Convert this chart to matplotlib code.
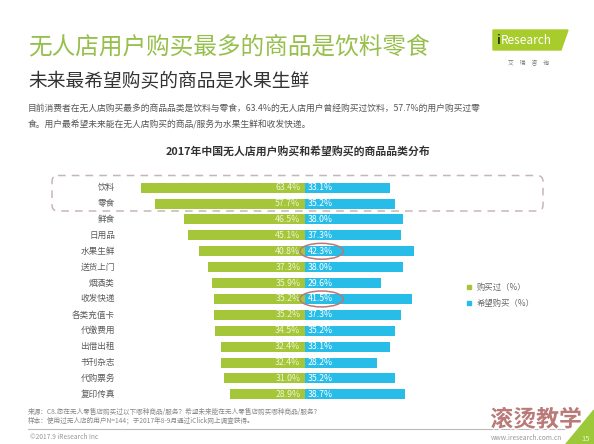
import matplotlib
matplotlib.use("Agg")
import matplotlib.pyplot as plt
import matplotlib.transforms as mtransforms
from matplotlib.patches import FancyBboxPatch, Ellipse, Polygon, Rectangle
import matplotlib.patheffects as pe

plt.rcParams['font.family'] = ['Noto Sans CJK SC', 'DejaVu Sans']

categories = ["饮料", "零食", "鲜食", "日用品", "水果生鲜", "送货上门", "烟酒类",
              "收发快递", "各类充值卡", "代缴费用", "出借出租", "书刊杂志", "代购票务", "复印传真"]
bought = [63.4, 57.7, 46.5, 45.1, 40.8, 37.3, 35.9, 35.2, 35.2, 34.5, 32.4, 32.4, 31.0, 28.9]
wanted = [33.1, 35.2, 38.0, 37.3, 42.3, 38.0, 29.6, 41.5, 37.3, 35.2, 33.1, 28.2, 35.2, 38.7]
legend_labels = ["购买过（%）", "希望购买（%）"]
highlight = ["水果生鲜", "收发快递"]

title_main = "无人店用户购买最多的商品是饮料零食"
title_sub = "未来最希望购买的商品是水果生鲜"
para1 = "目前消费者在无人店购买最多的商品品类是饮料与零食，63.4%的无人店用户曾经购买过饮料，57.7%的用户购买过零"
para2 = "食。用户最希望未来能在无人店购买的商品/服务为水果生鲜和收发快递。"
chart_title = "2017年中国无人店用户购买和希望购买的商品品类分布"
src1 = "来源：C8.您在无人零售店购买过以下哪种商品/服务？希望未来能在无人零售店购买哪种商品/服务？"
src2 = "样本：使用过无人店的用户N=144；于2017年8-9月通过iClick网上调查获得。"

GREEN = "#a6c63a"
BLUE = "#27bde8"
W, H = 594, 444

fig = plt.figure(figsize=(W / 100, H / 100), dpi=100)
fig.patch.set_facecolor("white")
px = mtransforms.Affine2D().scale(1 / W, -1 / H).translate(0, 1) + fig.transFigure

# chart axes
center = 304.5
scale = 2.585
top, bottom = 179.75, 402.25
ax = fig.add_axes([0, 1 - bottom / H, 1, (bottom - top) / H])
ax.set_xlim(-center / scale, (W - center) / scale)
ax.set_ylim(len(categories) - 0.5, -0.5)
ax.axis("off")

ys = list(range(len(categories)))
ax.barh(ys, [-b for b in bought], height=0.63, color=GREEN, zorder=2)
ax.barh(ys, wanted, height=0.63, color=BLUE, zorder=2)
label_x = (115 - center) / scale
for y, c, b, w in zip(ys, categories, bought, wanted):
    ax.text(label_x, y, c, ha="right", va="center", fontsize=6.2, color="#5a5a5a")
    ax.text(-1.6, y, f"{b:.1f}%", ha="right", va="center", fontsize=6.3, color="#eef3d6", zorder=3)
    ax.text(1.3, y, f"{w:.1f}%", ha="left", va="center", fontsize=6.3, color="#ffffff", zorder=3)

for c in highlight:
    y = categories.index(c)
    ax.add_patch(Ellipse((6.6, y), 16.8, 1.0, fill=False, edgecolor="#b9787a", lw=1.1, zorder=4))

# dashed highlight box
fig.patches.append(FancyBboxPatch((52, 175.5), 491, 35.5, boxstyle="round,pad=0,rounding_size=6",
                                  transform=px, fill=False, edgecolor="#c6b6b6", lw=1.1,
                                  linestyle=(0, (5, 4)), figure=fig))

# legend
fig.patches.append(Rectangle((466.5, 284.5), 4.5, 4.5, transform=px, color=GREEN, figure=fig))
fig.patches.append(Rectangle((466.5, 300.5), 4.5, 4.5, transform=px, color=BLUE, figure=fig))
fig.text(477 / W, 1 - 287 / H, legend_labels[0], fontsize=6, color="#666666", va="center")
fig.text(477 / W, 1 - 303 / H, legend_labels[1], fontsize=6, color="#666666", va="center")

# titles
fig.text(28 / W, 1 - 47 / H, title_main, fontsize=17, color="#97bf4c", va="center")
fig.text(28 / W, 1 - 82 / H, title_sub, fontsize=13.5, color="#333333", va="center")
fig.text(28 / W, 1 - 108 / H, para1, fontsize=6.3, color="#555555", va="center")
fig.text(28 / W, 1 - 125 / H, para2, fontsize=6.3, color="#555555", va="center")
fig.text(298 / W, 1 - 152 / H, chart_title, fontsize=7.8, fontweight="bold", color="#333333",
         ha="center", va="center")

# logo
fig.patches.append(Polygon([(493, 30), (568, 30), (561, 50), (493, 50)], closed=True,
                           transform=px, color="#a8cc2c", figure=fig))
fig.text(496 / W, 1 - 40 / H, "i", fontsize=9, color="#2a3a10", va="center", fontweight="bold")
fig.text(501 / W, 1 - 40 / H, "Research", fontsize=8.5, color="white", va="center")
fig.text(529 / W, 1 - 63 / H, "艾　瑞　咨　询", fontsize=4.2, color="#777777", va="center", ha="center")

# footer
fig.text(28 / W, 1 - 412 / H, src1, fontsize=4.8, color="#888888", va="center")
fig.text(28 / W, 1 - 421 / H, src2, fontsize=4.8, color="#888888", va="center")
fig.lines.append(plt.Line2D([28, 565], [429, 429], transform=px, color="#bbbbbb", lw=0.8, figure=fig))
fig.text(30 / W, 1 - 437 / H, "©2017.9 iResearch Inc", fontsize=4.8, color="#999999", va="center")
fig.text(562 / W, 1 - 438 / H, "www.iresearch.com.cn", fontsize=4.8, color="#999999", va="center", ha="right")
fig.patches.append(Polygon([(566, 444), (594, 410), (594, 444)], closed=True, transform=px,
                           color="#9cc93a", figure=fig))
fig.text(586 / W, 1 - 439 / H, "15", fontsize=5.5, color="#e8f4c0", va="center", ha="center")
fig.text(536 / W, 1 - 420 / H, "滚烫教学", fontsize=16.5, fontweight="bold", color="#b97a78",
         va="center", ha="center",
         path_effects=[pe.withStroke(linewidth=2, foreground="white")])

fig.savefig("out.png", dpi=100, facecolor="white")
